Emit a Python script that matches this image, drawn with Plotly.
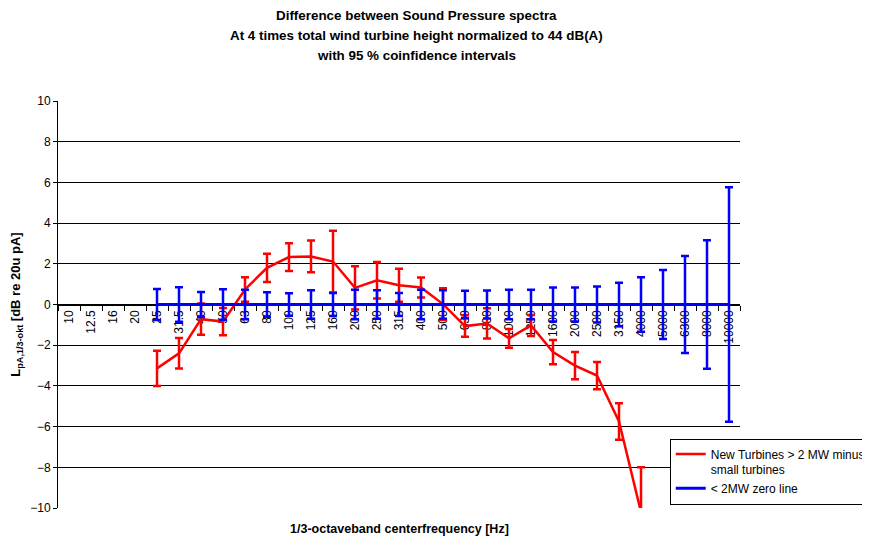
import plotly.graph_objects as go

# 1/3-octave band centre frequencies [Hz]
bands = ["10", "12.5", "16", "20", "25", "31.5", "40", "50", "63", "80", "100",
         "125", "160", "200", "250", "315", "400", "500", "630", "800", "1000",
         "1250", "1600", "2000", "2500", "3150", "4000", "5000", "6300", "8000",
         "10000"]

# New turbines > 2 MW minus small turbines (25 Hz .. 4000 Hz)
red_bands = bands[4:27]
red_diff = [-3.14, -2.40, -0.72, -0.84, 0.74, 1.80, 2.33, 2.36, 2.11, 0.82,
            1.19, 0.95, 0.84, 0.02, -1.06, -0.93, -1.66, -1.03, -2.34, -3.00,
            -3.49, -5.75, -10.2]
red_ci = [0.87, 0.75, 0.77, 0.67, 0.60, 0.70, 0.68, 0.78, 1.52, 1.06, 0.90,
          0.81, 0.49, 0.78, 0.53, 0.74, 0.46, 0.52, 0.59, 0.67, 0.67, 0.90,
          2.20]

# < 2 MW zero line (25 Hz .. 10000 Hz)
blue_bands = bands[4:]
blue_zero = [0.0] * len(blue_bands)
blue_ci = [0.76, 0.85, 0.62, 0.75, 0.73, 0.60, 0.55, 0.70, 0.57, 0.72, 0.70,
           0.57, 0.72, 0.70, 0.67, 0.69, 0.72, 0.72, 0.83, 0.83, 0.88, 1.07,
           1.34, 1.69, 2.38, 3.16, 5.76]

FONT = "Liberation Sans, Arial, sans-serif"

fig = go.Figure()

fig.add_trace(go.Scatter(
    x=red_bands, y=red_diff, mode="lines",
    name="New Turbines &gt; 2 MW minus<br>small turbines",
    line=dict(color="#ff0000", width=2.5),
    error_y=dict(type="data", array=red_ci, visible=True,
                 color="#ff0000", thickness=2.5, width=4),
))

fig.add_trace(go.Scatter(
    x=blue_bands, y=blue_zero, mode="lines",
    name="&lt; 2MW zero line",
    line=dict(color="#0000ff", width=3),
    error_y=dict(type="data", array=blue_ci, visible=True,
                 color="#0000ff", thickness=2.5, width=4),
))

# Titel in drei Zeilen
title_lines = ["Difference between Sound Pressure spectra",
               "At 4 times total wind turbine height normalized to 44 dB(A)",
               "with 95 % coinfidence intervals"]
for i, txt in enumerate(title_lines):
    fig.add_annotation(
        text=f"<b>{txt}</b>", xref="paper", yref="paper",
        x=0.526, y=1.211 - i * 0.049, xanchor="center", yanchor="middle",
        showarrow=False, font=dict(family=FONT, size=13.4, color="black"),
    )

fig.add_annotation(
    text="<b>1/3-octaveband centerfrequency [Hz]</b>", xref="paper", yref="paper",
    x=0.5, y=-0.052, xanchor="center", yanchor="middle", showarrow=False,
    font=dict(family=FONT, size=12.5, color="black"),
)

# Seite hat 8px Rand -> Ränder um 8px verschoben
fig.update_layout(
    width=870, height=540,
    margin=dict(l=50, r=138, t=93, b=40, autoexpand=False),
    paper_bgcolor="white", plot_bgcolor="white",
    font=dict(family=FONT, size=12, color="black"),
    showlegend=True,
    legend=dict(
        x=0.897, y=0.17, xanchor="left", yanchor="top",
        bgcolor="white", bordercolor="black", borderwidth=1,
        font=dict(family=FONT, size=12, color="black"),
        tracegroupgap=0, itemwidth=30, valign="top",
    ),
    xaxis=dict(
        type="category", categoryorder="array", categoryarray=bands,
        range=[-0.5, len(bands) - 0.5],
        anchor="free", position=0.5,
        showline=True, linecolor="black", linewidth=1,
        ticks="outside", ticklen=5, tickcolor="black", tickson="boundaries",
        tickangle=-90, tickfont=dict(family=FONT, size=12, color="black"),
        showgrid=False, zeroline=False, layer="below traces",
    ),
    yaxis=dict(
        range=[-10, 10], dtick=2, tick0=0,
        showline=True, linecolor="black", linewidth=1,
        ticks="outside", ticklen=4, tickcolor="black",
        showgrid=True, gridcolor="black", gridwidth=1, zeroline=False,
        tickfont=dict(family=FONT, size=12, color="black"),
        title=dict(text="<b>L<sub>pA,1/3-okt</sub> [dB re 20u pA]</b>",
                   font=dict(family=FONT, size=13, color="black"), standoff=6),
    ),
)

fig.write_html("out.html")
